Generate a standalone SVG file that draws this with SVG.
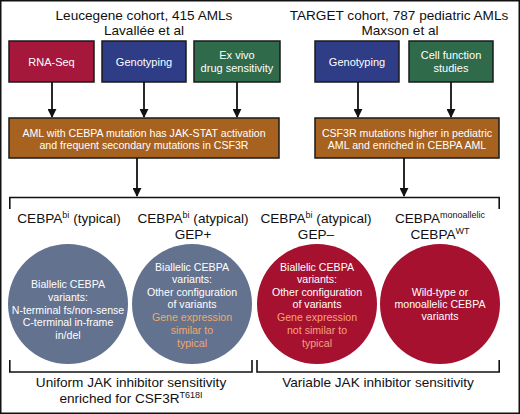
<svg xmlns="http://www.w3.org/2000/svg" width="520" height="414" viewBox="0 0 520 414">
<defs>
<style>
text{font-family:"Liberation Sans",Arial,sans-serif;text-anchor:middle}
.hd{font-size:13.6px;fill:#111}
.bx{font-size:11px;fill:#fff}
.ob{font-size:10.6px;fill:#fff}
.lb{font-size:13.6px;fill:#111}
.ct{font-size:10.6px;fill:#fff}
.og{fill:#f0a86a}
.op{fill:#f6a27c}
.sup{font-size:9px}
.ln{stroke:#111;stroke-width:1.8;fill:none}
.br{stroke:#111;stroke-width:1.6;fill:none}
.box{stroke:#1a1a1a;stroke-width:1.5}
</style>
<marker id="ah" viewBox="0 0 10 10" refX="9" refY="5" markerWidth="5" markerHeight="5" markerUnits="strokeWidth" orient="auto">
<path d="M0,0 L10,5 L0,10 Z" fill="#111"/>
</marker>
</defs>
<rect x="0" y="0" width="520" height="414" fill="#fff"/>
<rect x="0.75" y="0.75" width="518.5" height="412.5" fill="none" stroke="#111" stroke-width="1.5"/>

<g id="headers">
<text class="hd" x="144" y="20">Leucegene cohort, 415 AMLs</text>
<text class="hd" x="144" y="35">Lavallée et al</text>
<text class="hd" x="399" y="20">TARGET cohort, 787 pediatric AMLs</text>
<text class="hd" x="400" y="35">Maxson et al</text>
</g>

<g id="rnaseq"><rect class="box" x="9" y="41" width="85" height="41" fill="#a5173b"/><text class="bx" x="51.5" y="65.5">RNA-Seq</text></g>
<g id="genotyping1"><rect class="box" x="102" y="41" width="84" height="41" fill="#2e3d85"/><text class="bx" x="144" y="65.5">Genotyping</text></g>
<g id="exvivo"><rect class="box" x="194" y="41" width="86" height="41" fill="#2f6a4b"/><text class="bx" x="237" y="59">Ex vivo</text><text class="bx" x="237" y="72">drug sensitivity</text></g>
<g id="genotyping2"><rect class="box" x="315" y="41" width="84" height="41" fill="#2e3d85"/><text class="bx" x="357" y="65.5">Genotyping</text></g>
<g id="cellfunction"><rect class="box" x="409" y="41" width="84" height="41" fill="#2f6a4b"/><text class="bx" x="451" y="59">Cell function</text><text class="bx" x="451" y="72">studies</text></g>

<g id="finding1"><rect class="box" x="9" y="118" width="270" height="40" fill="#a8621f"/><text class="ob" x="144" y="137">AML with CEBPA mutation has JAK-STAT activation</text><text class="ob" x="144" y="149">and frequent secondary mutations in CSF3R</text></g>
<g id="finding2"><rect class="box" x="315" y="118" width="184" height="40" fill="#a8621f"/><text class="ob" x="407" y="137">CSF3R mutations higher in pediatric</text><text class="ob" x="407" y="149">AML and enriched in CEBPA AML</text></g>

<g id="connectors">
<line class="ln" x1="52" y1="82" x2="52" y2="117" marker-end="url(#ah)"/>
<line class="ln" x1="144" y1="82" x2="144" y2="117" marker-end="url(#ah)"/>
<line class="ln" x1="237" y1="82" x2="237" y2="117" marker-end="url(#ah)"/>
<line class="ln" x1="358" y1="82" x2="358" y2="117" marker-end="url(#ah)"/>
<line class="ln" x1="451" y1="82" x2="451" y2="117" marker-end="url(#ah)"/>
<line class="ln" x1="137" y1="158" x2="137" y2="196" marker-end="url(#ah)"/>
<line class="ln" x1="404" y1="158" x2="404" y2="196" marker-end="url(#ah)"/>
<path class="br" d="M9.8,209 V197.5 H499.2 V209"/>
<path class="br" d="M9.8,360 V372 H252 V360"/>
<path class="br" d="M257,360 V372 H499.2 V360"/>
</g>

<g id="typical">
<text class="lb" x="69" y="223">CEBPA<tspan class="sup" dy="-5">bi</tspan><tspan dy="5"> (typical)</tspan></text>
<circle cx="68" cy="304" r="60" fill="#63728f"/>
<text class="ct" x="68" y="288">Biallelic CEBPA</text>
<text class="ct" x="68" y="301">variants:</text>
<text class="ct" x="68" y="314">N-terminal fs/non-sense</text>
<text class="ct" x="68" y="326">C-terminal in-frame</text>
<text class="ct" x="68" y="339">in/del</text>
</g>

<g id="atypical-plus">
<text class="lb" x="193" y="223">CEBPA<tspan class="sup" dy="-5">bi</tspan><tspan dy="5"> (atypical)</tspan></text>
<text class="lb" x="193" y="239">GEP+</text>
<circle cx="192" cy="304" r="60" fill="#63728f"/>
<text class="ct" x="192" y="271">Biallelic CEBPA</text>
<text class="ct" x="192" y="283">variants:</text>
<text class="ct" x="192" y="296">Other configuration</text>
<text class="ct" x="192" y="308">of variants</text>
<text class="ct og" x="192" y="321">Gene expression</text>
<text class="ct og" x="192" y="334">similar to</text>
<text class="ct og" x="192" y="347">typical</text>
</g>

<g id="atypical-minus">
<text class="lb" x="316" y="223">CEBPA<tspan class="sup" dy="-5">bi</tspan><tspan dy="5"> (atypical)</tspan></text>
<text class="lb" x="316" y="239">GEP–</text>
<circle cx="317" cy="304" r="60" fill="#a6112f"/>
<text class="ct" x="317" y="271">Biallelic CEBPA</text>
<text class="ct" x="317" y="283">variants:</text>
<text class="ct" x="317" y="296">Other configuration</text>
<text class="ct" x="317" y="308">of variants</text>
<text class="ct op" x="317" y="321">Gene expression</text>
<text class="ct op" x="317" y="334">not similar to</text>
<text class="ct op" x="317" y="347">typical</text>
</g>

<g id="monoallelic">
<text class="lb" x="440" y="223">CEBPA<tspan class="sup" dy="-5">monoallelic</tspan></text>
<text class="lb" x="440" y="239">CEBPA<tspan class="sup" dy="-5">WT</tspan></text>
<circle cx="440" cy="304" r="60" fill="#a6112f"/>
<text class="ct" x="440" y="296">Wild-type or</text>
<text class="ct" x="440" y="308">monoallelic CEBPA</text>
<text class="ct" x="440" y="320">variants</text>
</g>

<g id="outcomes">
<text class="lb" x="131" y="387">Uniform JAK inhibitor sensitivity</text>
<text class="lb" x="131" y="403">enriched for CSF3R<tspan class="sup" dy="-5">T618I</tspan></text>
<text class="lb" x="378" y="387">Variable JAK inhibitor sensitivity</text>
</g>
</svg>
